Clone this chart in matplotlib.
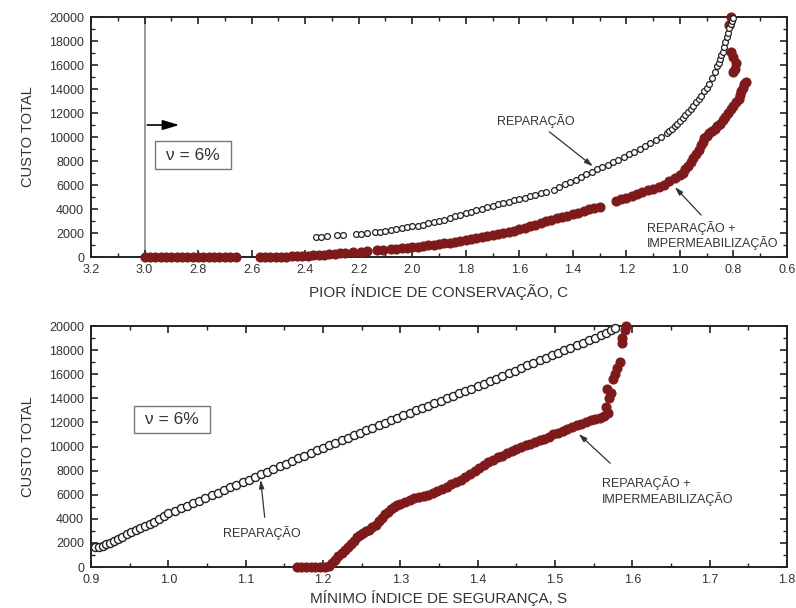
import numpy as np
import matplotlib
matplotlib.use("Agg")
import matplotlib.pyplot as plt
from matplotlib.ticker import MultipleLocator, FormatStrFormatter

plt.rcParams['font.family'] = ['Liberation Sans', 'DejaVu Sans']

# --- top chart: cost vs worst conservation index C ---
rep_c = [2.36, 2.34, 2.32, 2.28, 2.26, 2.21, 2.19, 2.17, 2.14, 2.12, 2.10, 2.08, 2.06,
         2.04, 2.02, 2.00, 1.98, 1.96, 1.94, 1.92, 1.90, 1.88, 1.86, 1.84, 1.82, 1.80,
         1.78, 1.76, 1.74, 1.72, 1.70, 1.68, 1.66, 1.64, 1.62, 1.60, 1.58, 1.56, 1.54,
         1.52, 1.50, 1.47, 1.45, 1.43, 1.41, 1.39, 1.37, 1.35, 1.33, 1.31, 1.29, 1.27,
         1.25, 1.23, 1.21, 1.19, 1.17, 1.15, 1.13, 1.11, 1.09, 1.07, 1.05, 1.04, 1.03,
         1.02, 1.01, 1.00, 0.99, 0.98, 0.97, 0.96, 0.95, 0.94, 0.93, 0.92, 0.91, 0.90,
         0.89, 0.88, 0.87, 0.86, 0.855, 0.85, 0.845, 0.84, 0.835, 0.83, 0.825, 0.82,
         0.815, 0.81, 0.805, 0.80]
rep_c_cost = [1650, 1700, 1720, 1800, 1830, 1900, 1950, 2000, 2080, 2120, 2200, 2270, 2330,
              2400, 2480, 2560, 2620, 2700, 2800, 2900, 3000, 3120, 3250, 3380, 3500, 3640,
              3760, 3880, 4000, 4130, 4260, 4380, 4500, 4600, 4720, 4820, 4950, 5060, 5180,
              5300, 5400, 5620, 5800, 6050, 6250, 6450, 6650, 6880, 7100, 7320, 7500, 7700,
              7900, 8100, 8330, 8550, 8780, 9020, 9250, 9500, 9750, 10000, 10300, 10500, 10700,
              10900, 11100, 11300, 11550, 11800, 12050, 12300, 12600, 12900, 13150, 13450, 13800, 14100,
              14450, 14900, 15400, 15900, 16200, 16500, 16800, 17100, 17500, 17900, 18300, 18700,
              19100, 19400, 19700, 19900]

imp_c = [3.00, 2.98, 2.96, 2.94, 2.92, 2.90, 2.88, 2.86, 2.84, 2.82, 2.80, 2.78, 2.76, 2.74,
         2.72, 2.70, 2.68, 2.66,
         2.57, 2.55, 2.53, 2.51, 2.49, 2.47, 2.45, 2.43, 2.41, 2.39, 2.37, 2.35, 2.33, 2.31,
         2.29, 2.27, 2.25, 2.22, 2.19, 2.17, 2.13, 2.11, 2.08, 2.06, 2.04, 2.02, 2.00, 1.98,
         1.96, 1.94, 1.92, 1.90, 1.88, 1.86, 1.84, 1.82, 1.80, 1.78, 1.76, 1.74, 1.72, 1.70,
         1.68, 1.66, 1.64, 1.62, 1.60, 1.58, 1.56, 1.54, 1.52, 1.50, 1.48, 1.46, 1.44, 1.42,
         1.40, 1.38, 1.36, 1.34, 1.32, 1.30, 1.24, 1.22, 1.20, 1.18, 1.16, 1.14, 1.12, 1.10,
         1.08, 1.06, 1.04, 1.02, 1.00, 0.99, 0.98, 0.97, 0.96, 0.95, 0.94, 0.93, 0.92, 0.915,
         0.91, 0.90, 0.89, 0.88, 0.87, 0.86, 0.85, 0.84, 0.83, 0.82, 0.81, 0.80, 0.79, 0.78,
         0.775, 0.77, 0.765, 0.76, 0.755,
         0.80, 0.795, 0.79, 0.80, 0.81, 0.815, 0.81]
imp_c_cost = [0, 0, 0, 0, 0, 0, 0, 0, 0, 0, 0, 0, 0, 0,
              0, 0, 0, 0,
              0, 0, 0, 0, 20, 30, 50, 80, 100, 120, 150, 180, 200, 230,
              260, 300, 340, 400, 450, 500, 560, 600, 660, 700, 750, 790, 830, 870,
              920, 970, 1020, 1080, 1140, 1200, 1260, 1330, 1400, 1470, 1550, 1640, 1740, 1830,
              1920, 2000, 2100, 2200, 2320, 2450, 2580, 2700, 2850, 3000, 3120, 3230, 3330, 3420,
              3550, 3700, 3850, 4000, 4100, 4200, 4700, 4850, 4950, 5100, 5250, 5400, 5550, 5700,
              5850, 6000, 6300, 6600, 6850, 7000, 7300, 7600, 7900, 8250, 8600, 8950, 9300, 9600,
              9900, 10050, 10300, 10500, 10700, 10900, 11100, 11400, 11700, 12000, 12300, 12600, 12900, 13200,
              13500, 13800, 14100, 14400, 14600,
              15400, 15700, 16200, 16700, 17100, 19300, 20000]

# --- bottom chart: cost vs minimum safety index S ---
rep_s = [0.905, 0.910, 0.915, 0.920, 0.925, 0.930, 0.935, 0.940, 0.946, 0.952, 0.958, 0.964,
         0.970, 0.976, 0.982, 0.988, 0.994, 1.000, 1.008, 1.016, 1.024, 1.032, 1.040, 1.048,
         1.056, 1.064, 1.072, 1.080, 1.088, 1.096, 1.104, 1.112, 1.120, 1.128, 1.136, 1.144,
         1.152, 1.160, 1.168, 1.176, 1.184, 1.192, 1.200, 1.208, 1.216, 1.224, 1.232, 1.240,
         1.248, 1.256, 1.264, 1.272, 1.280, 1.288, 1.296, 1.304, 1.312, 1.320, 1.328, 1.336,
         1.344, 1.352, 1.360, 1.368, 1.376, 1.384, 1.392, 1.400, 1.408, 1.416, 1.424, 1.432,
         1.440, 1.448, 1.456, 1.464, 1.472, 1.480, 1.488, 1.496, 1.504, 1.512, 1.520, 1.528,
         1.536, 1.544, 1.552, 1.560, 1.566, 1.572, 1.578]
rep_s_cost = [1650, 1700, 1780, 1870, 1960, 2150, 2350, 2520, 2700, 2880, 3050, 3230,
              3420, 3600, 3760, 3950, 4250, 4450, 4650, 4880, 5100, 5310, 5520, 5740,
              5950, 6170, 6390, 6610, 6820, 7040, 7260, 7480, 7700, 7920, 8140, 8360,
              8580, 8800, 9020, 9240, 9460, 9680, 9900, 10110, 10320, 10520, 10730, 10940,
              11150, 11360, 11560, 11770, 11980, 12190, 12400, 12600, 12800, 13000, 13200, 13400,
              13600, 13800, 14000, 14200, 14400, 14600, 14800, 15000, 15210, 15430, 15640, 15860,
              16080, 16300, 16510, 16730, 16940, 17160, 17380, 17600, 17800, 18000, 18200, 18400,
              18600, 18800, 19000, 19250, 19450, 19650, 19850]

imp_s = [1.166, 1.172, 1.178, 1.184, 1.190, 1.196, 1.202, 1.208, 1.212, 1.216, 1.220, 1.224,
         1.228, 1.232, 1.236, 1.240, 1.244, 1.248, 1.252, 1.256, 1.260, 1.264, 1.268, 1.272,
         1.276, 1.280, 1.284, 1.288, 1.292, 1.296, 1.300, 1.306, 1.312, 1.318, 1.324, 1.330,
         1.336, 1.342, 1.348, 1.354, 1.360, 1.366, 1.372, 1.378, 1.384, 1.390, 1.396, 1.402,
         1.408, 1.414, 1.420, 1.426, 1.432, 1.438, 1.444, 1.450, 1.456, 1.462, 1.468, 1.474,
         1.480, 1.486, 1.492, 1.498, 1.504, 1.510, 1.516, 1.522, 1.528, 1.534, 1.540, 1.546,
         1.552, 1.558, 1.564, 1.568, 1.566, 1.570, 1.572, 1.567, 1.575, 1.578, 1.580, 1.584,
         1.586, 1.587, 1.590, 1.592]
imp_s_cost = [0, 0, 0, 0, 0, 0, 0, 100, 300, 600, 900, 1150,
              1450, 1700, 1950, 2200, 2450, 2650, 2850, 3000, 3100, 3300, 3500, 3800,
              4100, 4400, 4600, 4800, 5000, 5150, 5250, 5400, 5550, 5700, 5800, 5900,
              6000, 6150, 6320, 6500, 6650, 6850, 7050, 7250, 7450, 7700, 7950, 8200,
              8450, 8700, 8900, 9100, 9250, 9450, 9650, 9800, 9950, 10100, 10250, 10400,
              10500, 10650, 10800, 11000, 11150, 11300, 11450, 11600, 11750, 11900, 12050, 12200,
              12300, 12400, 12500, 12800, 13300, 14000, 14400, 14800, 15600, 16000, 16500, 17000,
              18600, 19000, 19700, 20000]

RED = '#7e1a1b'
TXT = '#333333'
ARROW = dict(arrowstyle='-|>,head_length=0.5,head_width=0.15', color='#333333', lw=0.9)
BOX = dict(boxstyle='square,pad=0.35', fc='white', ec='#777777', lw=1.0)


def style_axes(ax, xmin, xmax, xmaj, xmin_step):
    ax.set_xlim(xmin, xmax)
    ax.set_ylim(0, 20000)
    ax.xaxis.set_major_locator(MultipleLocator(xmaj))
    ax.xaxis.set_minor_locator(MultipleLocator(xmin_step))
    ax.xaxis.set_major_formatter(FormatStrFormatter('%.1f'))
    ax.yaxis.set_major_locator(MultipleLocator(2000))
    ax.yaxis.set_minor_locator(MultipleLocator(1000))
    ax.tick_params(which='both', direction='in', top=True, right=True,
                   labelsize=9, labelcolor=TXT, color='#222222', pad=5)
    ax.tick_params(which='major', length=5, width=1.2)
    ax.tick_params(which='minor', length=3, width=1.0)
    for s in ax.spines.values():
        s.set_linewidth(1.4)
        s.set_color('#222222')
    ax.set_ylabel('CUSTO TOTAL', fontsize=10.5, color=TXT, labelpad=10)


fig = plt.figure(figsize=(7.96, 6.08), dpi=100)

ax1 = fig.add_axes([0.1143, 0.5773, 0.8744, 0.3947])
style_axes(ax1, 3.2, 0.6, 0.2, 0.1)
ax1.axvline(3.0, color='#888888', lw=1.2, zorder=1)
ax1.plot(imp_c, imp_c_cost, 'o', ms=6.5, mfc=RED, mec=RED, mew=0.8, zorder=3, clip_on=False)
ax1.plot(rep_c, rep_c_cost, 'o', ms=4.2, mfc='white', mec='#222222', mew=0.9, zorder=4, clip_on=False)
ax1.annotate('', xy=(2.86, 11000), xytext=(3.0, 11000),
             arrowprops=dict(arrowstyle='-|>,head_length=1.0,head_width=0.3', color='black', lw=1.2))
ax1.text(2.82, 8500, ' ν = 6% ', fontsize=12.5, color=TXT, ha='center', va='center', bbox=BOX)
ax1.text(1.54, 11300, 'REPARAÇÃO', fontsize=9, color=TXT, ha='center', va='center')
ax1.annotate('', xy=(1.317, 7420), xytext=(1.496, 10580), arrowprops=ARROW)
ax1.text(1.123, 1800, 'REPARAÇÃO +\nIMPERMEABILIZAÇÃO', fontsize=9, color=TXT,
         ha='left', va='center', linespacing=1.15)
ax1.annotate('', xy=(1.026, 6000), xytext=(0.914, 3330), arrowprops=ARROW)
ax1.set_xlabel('PIOR ÍNDICE DE CONSERVAÇÃO, C', fontsize=11, color=TXT, labelpad=6)

ax2 = fig.add_axes([0.1143, 0.0674, 0.8744, 0.3964])
style_axes(ax2, 0.9, 1.8, 0.1, 0.05)
ax2.plot(imp_s, imp_s_cost, 'o', ms=6.5, mfc=RED, mec=RED, mew=0.8, zorder=3, clip_on=False)
ax2.plot(rep_s, rep_s_cost, 'o', ms=5.8, mfc='white', mec='#222222', mew=1.0, zorder=4, clip_on=False)
ax2.text(1.005, 12250, ' ν = 6% ', fontsize=12.5, color=TXT, ha='center', va='center', bbox=BOX)
ax2.text(1.121, 2820, 'REPARAÇÃO', fontsize=9, color=TXT, ha='center', va='center')
ax2.annotate('', xy=(1.119, 7470), xytext=(1.125, 3900), arrowprops=ARROW)
ax2.text(1.561, 6300, 'REPARAÇÃO +\nIMPERMEABILIZAÇÃO', fontsize=9, color=TXT,
         ha='left', va='center', linespacing=1.15)
ax2.annotate('', xy=(1.528, 11200), xytext=(1.574, 8460), arrowprops=ARROW)
ax2.set_xlabel('MÍNIMO ÍNDICE DE SEGURANÇA, S', fontsize=11, color=TXT, labelpad=3)

fig.savefig('out.png', dpi=100)
